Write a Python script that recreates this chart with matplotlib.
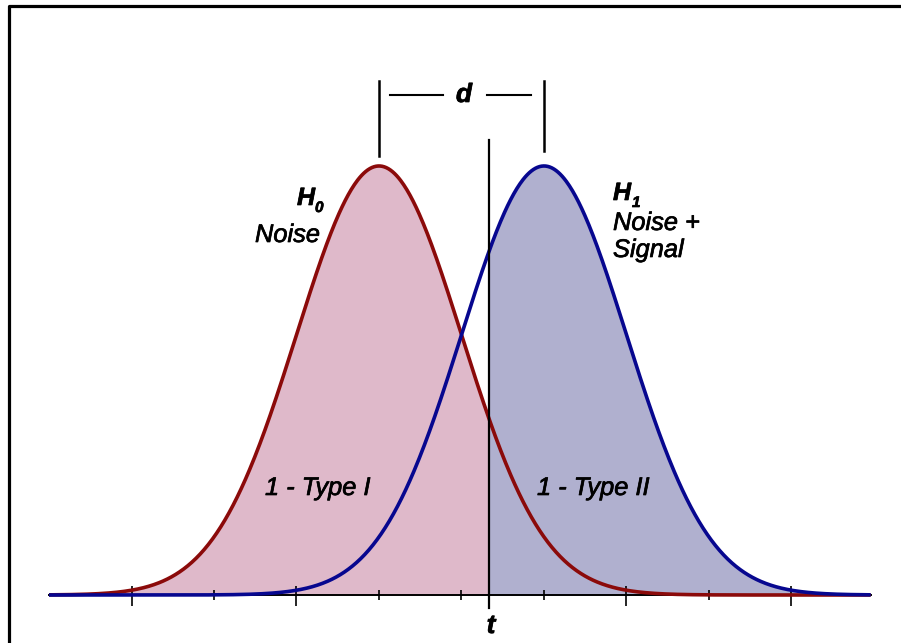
import numpy as np
import matplotlib
matplotlib.use("Agg")
import matplotlib.pyplot as plt
import matplotlib.patheffects as pe
from matplotlib.lines import Line2D

# distributions (units of sigma)
mu_noise = 0.0
mu_signal = 2.0
sigma = 1.0
threshold = 1.33
x_min, x_max = -4.0, 5.96

major_ticks = [-3, -1, 3, 5]
minor_ticks = [-2, 0, 1, 2, 4]

RED = "#8b0a0a"
BLUE = "#07078f"
PINK = "#dfb9ca"
LAVENDER = "#b0b0cf"

W, H = 901, 643
# pixel scale of the drawing
sx = 82.5      # px per sigma
sy = 1075.4    # px per density unit
x0_px, base_px = 379, 595


def pdf(x, mu):
    return np.exp(-0.5 * ((x - mu) / sigma) ** 2) / (sigma * np.sqrt(2 * np.pi))


fig = plt.figure(figsize=(W / 100, H / 100), dpi=100)
ax = fig.add_axes([0, 0, 1, 1])
ax.axis("off")
ax.set_xlim(-x0_px / sx, (W - x0_px) / sx)
ax.set_ylim(-(H - base_px) / sy, base_px / sy)

x = np.linspace(x_min, x_max, 800)
y0 = pdf(x, mu_noise)
y1 = pdf(x, mu_signal)

ax.fill_between(x, 0, y0, where=x <= threshold, color=PINK, lw=0)
ax.fill_between(x, 0, y1, where=x >= threshold, color=LAVENDER, lw=0)

# baseline and ticks
ax.plot([x_min, x_max], [0, 0], color="black", lw=1.4, zorder=2)
ax.vlines(major_ticks, -11 / sy, 9 / sy, color="black", lw=1.2, zorder=2)
ax.vlines(minor_ticks, -5 / sy, 5 / sy, color="black", lw=1.2, zorder=2)

ax.plot(x, y0, color=RED, lw=2.6, zorder=3, solid_capstyle="butt")
ax.plot(x, y1, color=BLUE, lw=2.6, zorder=3, solid_capstyle="butt")

# threshold line
ax.plot([threshold, threshold], [-13 / sy, (base_px - 140) / sy],
        color="black", lw=1.6, zorder=4)

# d bracket
top0 = (base_px - 81) / sy
ax.plot([mu_noise, mu_noise], [(base_px - 156) / sy, top0], color="black", lw=1.8)
ax.plot([mu_signal, mu_signal], [(base_px - 151) / sy, top0], color="black", lw=1.8)
yb = (base_px - 95) / sy
ax.plot([(390 - x0_px) / sx, (443 - x0_px) / sx], [yb, yb], color="black", lw=1.5)
ax.plot([(487 - x0_px) / sx, (531 - x0_px) / sx], [yb, yb], color="black", lw=1.5)

# outer frame (top-left corner only, like a cropped box)
fig.add_artist(Line2D([9 / W, 9 / W, 1], [0, 1 - 5.5 / H, 1 - 5.5 / H],
                      transform=fig.transFigure, color="black", lw=2.3))

FONT = "Liberation Sans"
thick = [pe.withStroke(linewidth=0.5, foreground="black")]


def ptext(px, py, s, size, ha="left", weight="normal"):
    fig.text(px / W, 1 - py / H, s, fontsize=size, ha=ha, va="baseline",
             family=FONT, style="italic", weight=weight, path_effects=thick)


ptext(464, 102, "d", 19, ha="center", weight="bold")
ptext(491, 633, "t", 19, ha="center", weight="bold")

ptext(297, 205, "H", 18, weight="bold")
ptext(315, 212, "0", 11, weight="bold")
ptext(320, 242, "Noise", 18.3, ha="right")

ptext(613, 200, "H", 18, weight="bold")
ptext(632, 207, "1", 11, weight="bold")
ptext(613, 230, "Noise +", 18.3)
ptext(613, 257, "Signal", 18.3)

ptext(265, 495, "1 - Type I", 18.3)
ptext(537, 495, "1 - Type II", 18.3)

fig.savefig("out.png", dpi=100)
